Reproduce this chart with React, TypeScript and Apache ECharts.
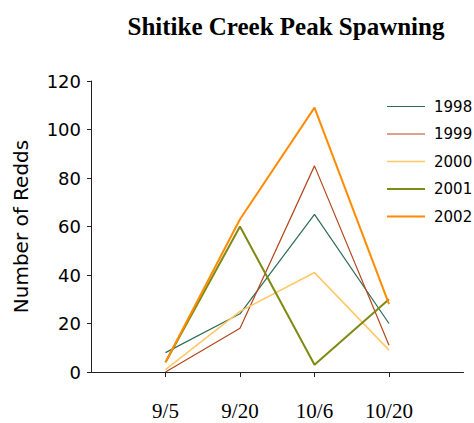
import React, { useEffect, useRef } from "react";
import * as echarts from "echarts";

const categories = ["", "9/5", "9/20", "10/6", "10/20", ""];
const yTicks = [0, 20, 40, 60, 80, 100, 120];
const seriesNames = ["1998", "1999", "2000", "2001", "2002"];
const v1998 = [null, 8, 24, 65, 20, null];
const v1999 = [null, 0, 18, 85, 11, null];
const v2000 = [null, 1, 25, 41, 9, null];
const v2001 = [null, 4, 60, 3, 30, null];
const v2002 = [null, 4, 63, 109, 28, null];
const seriesValues = [v1998, v1999, v2000, v2001, v2002];
const colors = ["#2E6B57", "#B5461C", "#FFC866", "#7F8A14", "#FF8C00"];
const widths = [1.2, 1.2, 1.6, 2, 2];

export default function App() {
  const ref = useRef<HTMLDivElement>(null);
  useEffect(() => {
    if (!ref.current) return;
    const chart = echarts.init(ref.current, null, { renderer: "svg" });
    chart.setOption({
      animation: false,
      backgroundColor: "#ffffff",
      title: {
        text: "Shitike Creek Peak Spawning",
        left: 281,
        textAlign: "center",
        top: 9,
        textStyle: {
          fontFamily: "Liberation Serif",
          fontWeight: "bold",
          fontSize: 25,
          color: "#000",
        },
      },
      legend: {
        orient: "vertical",
        left: 387,
        top: 99,
        padding: 0,
        itemWidth: 38,
        itemHeight: 14,
        itemGap: 12.5,
        textStyle: { fontFamily: "DejaVu Sans", fontSize: 15, color: "#000", padding: [0, 0, 0, 4] },
        data: seriesNames.map((n, i) => ({
          name: n,
          icon: "path://M0,0 L38,0 L38," + widths[i] + " L0," + widths[i] + " Z",
        })),
      },
      grid: { left: 91, top: 81, right: 10.5, bottom: 51, containLabel: false },
      xAxis: {
        type: "category",
        data: categories,
        boundaryGap: false,
        axisLine: { lineStyle: { color: "#222", width: 1 } },
        axisTick: {
          length: 5,
          interval: (i: number) => i > 0 && i < categories.length - 1,
          lineStyle: { color: "#222" },
        },
        axisLabel: {
          interval: 0,
          margin: 28,
          fontFamily: "Liberation Serif",
          fontSize: 21,
          color: "#000",
        },
      },
      yAxis: {
        type: "value",
        min: yTicks[0],
        max: yTicks[yTicks.length - 1],
        interval: 20,
        name: "Number of Redds",
        nameLocation: "middle",
        nameGap: 60,
        nameTextStyle: { fontFamily: "DejaVu Sans", fontSize: 20, color: "#000" },
        splitLine: { show: false },
        axisLine: { show: true, lineStyle: { color: "#222", width: 1 } },
        axisTick: { show: true, length: 4, lineStyle: { color: "#222" } },
        axisLabel: { margin: 10, fontFamily: "DejaVu Sans", fontSize: 18, color: "#000" },
      },
      series: seriesNames.map((n, i) => ({
        name: n,
        type: "line",
        data: seriesValues[i],
        symbol: "none",
        color: colors[i],
        lineStyle: { color: colors[i], width: widths[i] },
      })),
    });
    return () => chart.dispose();
  }, []);
  return <div ref={ref} style={{ width: 474, height: 423, position: "absolute", left: 0, top: 0 }} />;
}
